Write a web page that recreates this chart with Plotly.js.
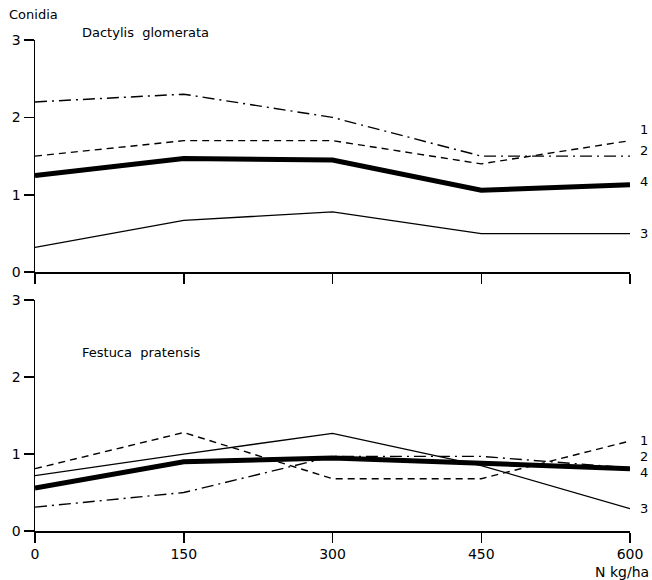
<!DOCTYPE html>
<html>
<head>
<meta charset="utf-8">
<script src="https://cdn.plot.ly/plotly-3.0.1.min.js"></script>
<style>html,body{margin:0;padding:0;background:#fff;}#chart{width:652px;height:580px;}</style>
</head>
<body>
<div id="chart"></div>
<script>
// N fertilisation (kg/ha)
var nitrogen = [0, 150, 300, 450, 600];
var seriesNames = ["1", "2", "3", "4"];

// Dactylis glomerata (top panel), conidia
var dactylis1 = [1.5, 1.7, 1.7, 1.4, 1.7];
var dactylis2 = [2.2, 2.3, 2.0, 1.5, 1.5];
var dactylis3 = [0.32, 0.67, 0.78, 0.5, 0.5];
var dactylis4 = [1.25, 1.47, 1.45, 1.06, 1.13];

// Festuca pratensis (bottom panel), conidia
var festuca1 = [0.81, 1.28, 0.68, 0.68, 1.17];
var festuca2 = [0.31, 0.5, 0.97, 0.97, 0.82];
var festuca3 = [0.72, 1.0, 1.27, 0.85, 0.29];
var festuca4 = [0.56, 0.9, 0.95, 0.88, 0.81];

var yTicks = [0, 1, 2, 3];
var xTicks = [0, 150, 300, 450, 600];

var styles = {
  "1": {color: "#000", width: 1.4, dash: "7px,5px"},
  "2": {color: "#000", width: 1.4, dash: "12px,5px,2px,5px"},
  "3": {color: "#000", width: 1.3, dash: "solid"},
  "4": {color: "#000", width: 5, dash: "solid"}
};

function tr(y, name, xa, ya) {
  return {x: nitrogen, y: y, type: "scatter", mode: "lines", name: name,
          line: styles[name], xaxis: xa, yaxis: ya, showlegend: false, hoverinfo: "skip"};
}

var data = [
  tr(dactylis1, "1", "x", "y"), tr(dactylis2, "2", "x", "y"),
  tr(dactylis3, "3", "x", "y"), tr(dactylis4, "4", "x", "y"),
  tr(festuca1, "1", "x2", "y2"), tr(festuca2, "2", "x2", "y2"),
  tr(festuca3, "3", "x2", "y2"), tr(festuca4, "4", "x2", "y2")
];

var font = {family: "DejaVu Sans, Liberation Sans, sans-serif", color: "#000"};
var axBase = {
  range: [0, 600], showgrid: false, zeroline: false, showline: true, linecolor: "#000",
  linewidth: 1.5, ticks: "outside", ticklen: 10, tickwidth: 1.5, tickcolor: "#000",
  tickvals: xTicks, tickfont: {family: font.family, size: 14, color: "#000"}, fixedrange: true
};
var yBase = {
  range: [0, 3], showgrid: false, zeroline: false, showline: true, linecolor: "#000",
  linewidth: 1.5, ticks: "outside", ticklen: 10, tickwidth: 1.5, tickcolor: "#000",
  tickvals: yTicks, tickfont: {family: font.family, size: 14, color: "#000"}, fixedrange: true
};

function lab(text, xa, ya, y) {
  return {text: text, xref: xa, yref: ya, x: 600, y: y, xanchor: "left", yanchor: "middle",
          xshift: 8, showarrow: false, font: {family: font.family, size: 13, color: "#000"}};
}

var layout = {
  width: 652, height: 580,
  margin: {l: 35, r: 22, t: 40, b: 49},
  paper_bgcolor: "#fff", plot_bgcolor: "#fff",
  font: font,
  xaxis: Object.assign({}, axBase, {anchor: "y", showticklabels: false}),
  yaxis: Object.assign({}, yBase, {domain: [0.527, 1], anchor: "x"}),
  xaxis2: Object.assign({}, axBase, {anchor: "y2"}),
  yaxis2: Object.assign({}, yBase, {domain: [0, 0.47], anchor: "x2"}),
  annotations: [
    {text: "Conidia", xref: "paper", yref: "paper", x: -0.047, y: 1.051, xanchor: "left", yanchor: "middle",
     showarrow: false, font: {family: font.family, size: 13, color: "#000"}},
    {text: "Dactylis  glomerata", xref: "paper", yref: "paper", x: 0.075, y: 1.016, xanchor: "left", yanchor: "middle",
     showarrow: false, font: {family: font.family, size: 13, color: "#000"}},
    {text: "Festuca  pratensis", xref: "paper", yref: "paper", x: 0.075, y: 0.363, xanchor: "left", yanchor: "middle",
     showarrow: false, font: {family: font.family, size: 13, color: "#000"}},
    {text: "N kg/ha", xref: "paper", yref: "paper", x: 1.035, y: -0.083, xanchor: "right", yanchor: "middle",
     showarrow: false, font: {family: font.family, size: 14, color: "#000"}},
    lab("1", "x", "y", 1.85), lab("2", "x", "y", 1.57), lab("4", "x", "y", 1.17), lab("3", "x", "y", 0.5),
    lab("1", "x2", "y2", 1.18), lab("2", "x2", "y2", 0.97), lab("4", "x2", "y2", 0.76), lab("3", "x2", "y2", 0.29)
  ]
};

Plotly.newPlot("chart", data, layout, {staticPlot: true, displayModeBar: false});
</script>
</body>
</html>
